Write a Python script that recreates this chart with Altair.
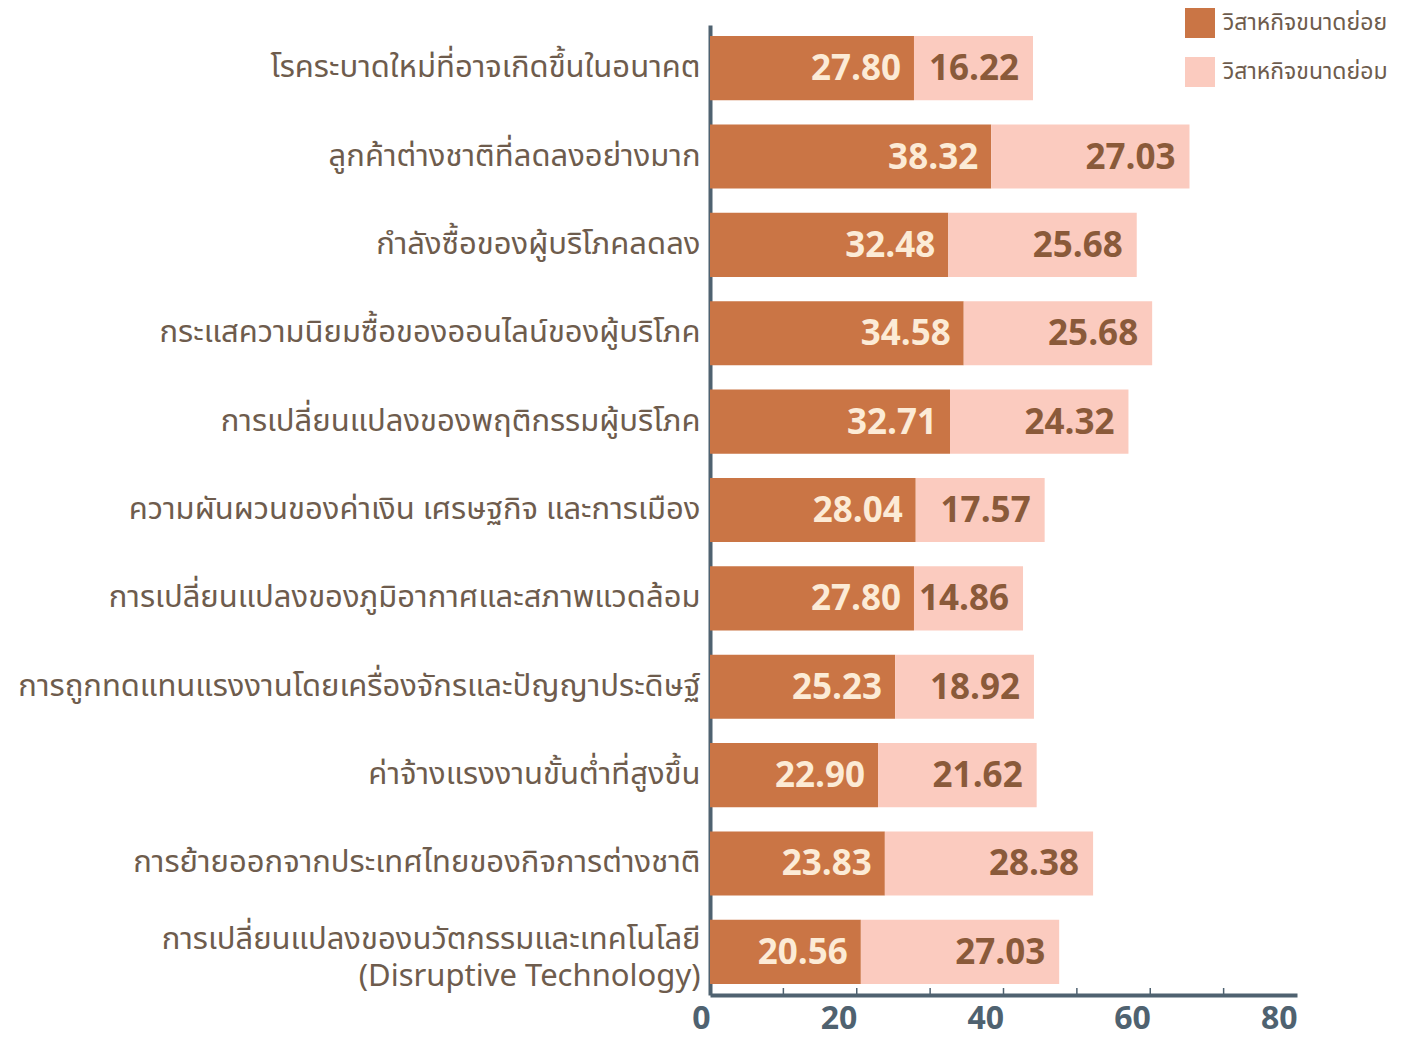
import altair as alt
import pandas as pd

categories = [
    "โรคระบาดใหม่ที่อาจเกิดขึ้นในอนาคต",
    "ลูกค้าต่างชาติที่ลดลงอย่างมาก",
    "กำลังซื้อของผู้บริโภคลดลง",
    "กระแสความนิยมซื้อของออนไลน์ของผู้บริโภค",
    "การเปลี่ยนแปลงของพฤติกรรมผู้บริโภค",
    "ความผันผวนของค่าเงิน เศรษฐกิจ และการเมือง",
    "การเปลี่ยนแปลงของภูมิอากาศและสภาพแวดล้อม",
    "การถูกทดแทนแรงงานโดยเครื่องจักรและปัญญาประดิษฐ์",
    "ค่าจ้างแรงงานขั้นต่ำที่สูงขึ้น",
    "การย้ายออกจากประเทศไทยของกิจการต่างชาติ",
    "การเปลี่ยนแปลงของนวัตกรรมและเทคโนโลยี|(Disruptive Technology)",
]
micro = [27.80, 38.32, 32.48, 34.58, 32.71, 28.04, 27.80, 25.23, 22.90, 23.83, 20.56]
small = [16.22, 27.03, 25.68, 25.68, 24.32, 17.57, 14.86, 18.92, 21.62, 28.38, 27.03]
series_names = ["วิสาหกิจขนาดย่อย", "วิสาหกิจขนาดย่อม"]
x_ticks = [0, 10, 20, 30, 40, 50, 60, 70, 80]

DARK = "#CA7545"
LIGHT = "#FBCBBF"
AXIS = "#4F6270"
TXT = "#6E5C4D"
FONT = "Noto Sans Thai, Noto Sans, sans-serif"

rows = []
for c, a, b in zip(categories, micro, small):
    rows.append({"cat": c, "series": series_names[0], "start": 0.0, "end": a, "val": a, "lab": f"{a:.2f}"})
    rows.append({"cat": c, "series": series_names[1], "start": a, "end": a + b, "val": b, "lab": f"{b:.2f}"})
df = pd.DataFrame(rows)
ticks_df = pd.DataFrame({"t": x_ticks[1:-1]})

W, H = 587, 970

xscale = alt.Scale(domain=[0, 80], nice=False, zero=True)
yscale = alt.Scale(domain=categories, paddingInner=0.274, paddingOuter=0.125)

y_enc = alt.Y("cat:N", scale=yscale, sort=categories, title=None,
              axis=alt.Axis(labelExpr="split(datum.label, '|')", labelFont=FONT,
                            labelFontSize=31, labelColor=TXT, labelLimit=800,
                            labelPadding=10, labelLineHeight=37, ticks=False,
                            labelOffset={"condition": {"test": "indexof(datum.value, 'Disruptive') >= 0",
                                                       "value": -12},
                                         "value": 0},
                            domainColor=AXIS, domainWidth=4, labelAlign="right"))

bars = alt.Chart(df).mark_bar(cornerRadius=0).encode(
    x=alt.X("start:Q", scale=xscale, title=None,
            axis=alt.Axis(values=x_ticks, labelExpr="datum.value % 20 == 0 ? datum.label : ''",
                          labelFont=FONT, labelFontSize=32, labelFontWeight="bold",
                          labelColor=AXIS, labelAlign="right", labelPadding=8,
                          tickSize=0, domainColor=AXIS, domainWidth=4, grid=False)),
    x2="end:Q",
    y=y_enc,
    color=alt.Color("series:N", scale=alt.Scale(domain=series_names, range=[DARK, LIGHT]),
                    legend=alt.Legend(orient="none", legendX=475, legendY=-17, title=None,
                                      symbolType="square", symbolSize=900, symbolStrokeWidth=0,
                                      labelFont=FONT, labelFontSize=23, labelColor=TXT,
                                      labelLimit=400, rowPadding=19, labelOffset=8)),
)

text_dark = alt.Chart(df).transform_filter(
    alt.datum.series == series_names[0]
).mark_text(align="right", baseline="middle", dx=-13, dy=1, fontSize=35, fontWeight="bold",
            font=FONT, color="#FCEBD6").encode(
    x=alt.X("end:Q", scale=xscale), y=alt.Y("cat:N", scale=yscale, sort=categories), text="lab:N")

text_light = alt.Chart(df).transform_filter(
    alt.datum.series == series_names[1]
).mark_text(align="right", baseline="middle", dx=-14, dy=1, fontSize=35, fontWeight="bold",
            font=FONT, color="#8A5A3A").encode(
    x=alt.X("end:Q", scale=xscale), y=alt.Y("cat:N", scale=yscale, sort=categories), text="lab:N")

tick_marks = alt.Chart(ticks_df).mark_rule(color=AXIS, strokeWidth=1.5).encode(
    x=alt.X("t:Q", scale=xscale), y=alt.value(H - 7), y2=alt.value(H))

chart = alt.layer(bars, text_dark, text_light, tick_marks).properties(
    width=W, height=H,
    background="white",
    autosize=alt.AutoSizeParams(type="none"),
    padding={"left": 702, "top": 17, "right": 100, "bottom": 42},
).configure_view(stroke=None)

chart.save("out.html", embed_options={"renderer": "svg", "actions": False})
